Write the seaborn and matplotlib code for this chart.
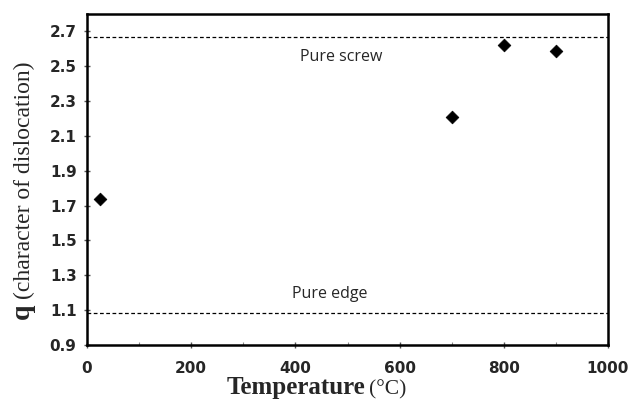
import matplotlib
matplotlib.use("Agg")
import matplotlib.pyplot as plt
import seaborn as sns
import pandas as pd

temperature = [25, 700, 800, 900]
q_values = [1.74, 2.21, 2.62, 2.59]
pure_screw = 2.667
pure_edge = 1.085
x_ticks = [0, 200, 400, 600, 800, 1000]
y_ticks = [0.9, 1.1, 1.3, 1.5, 1.7, 1.9, 2.1, 2.3, 2.5, 2.7]

sns.set_theme(style="ticks")
plt.rcParams['font.family'] = ['DejaVu Sans']

df = pd.DataFrame({"T": temperature, "q": q_values})

fig = plt.figure(figsize=(6.32, 4.08), dpi=100)
ax = fig.add_axes([87/632, 1-345/408, (608-87)/632, (345-14)/408])

sns.scatterplot(data=df, x="T", y="q", marker="D", color="black", s=42,
                edgecolor="black", ax=ax, zorder=3)

ax.axhline(pure_screw, color="black", lw=0.9, ls=(0, (3, 2)))
ax.axhline(pure_edge, color="black", lw=0.9, ls=(0, (3, 2)))
ax.text(487, 2.555, "Pure screw", ha="center", va="center",
        fontsize=11.5, family=["Open Sans", "DejaVu Sans"])
ax.text(466, 1.195, "Pure edge", ha="center", va="center",
        fontsize=11.5, family=["Open Sans", "DejaVu Sans"])

ax.set_xlim(0, 1000)
ax.set_ylim(0.9, 2.8)
ax.set_xticks(x_ticks)
ax.set_yticks(y_ticks)
ax.set_xticklabels([str(v) for v in x_ticks], fontweight="bold", fontsize=11)
ax.set_yticklabels([f"{v:.1f}" for v in y_ticks], fontweight="bold", fontsize=11)
ax.set_xticks([100, 300, 500, 700, 900], minor=True)
ax.tick_params(axis="both", which="major", direction="inout", length=5, width=1,
               color="#555555", pad=5)
ax.tick_params(axis="x", which="major", pad=9)
ax.tick_params(axis="x", which="minor", direction="in", length=2, width=0.8,
               color="#888888")
for sp in ax.spines.values():
    sp.set_linewidth(1.8)
    sp.set_color("black")
ax.set_xlabel("")
ax.set_ylabel("")

fig.text(365/632, 1-394/408, "Temperature", ha="right", va="baseline",
         fontsize=18, fontweight="bold", family=["Liberation Serif"])
fig.text(369/632, 1-394/408, "(°C)", ha="left", va="baseline",
         fontsize=15.5, family=["Liberation Serif"])
fig.text(29/632, 1-319/408, "q", ha="left", va="baseline", rotation=90,
         fontsize=20, fontweight="bold", family=["Liberation Serif"],
         rotation_mode="anchor")
fig.text(30/632, 1-299/408, "(character of dislocation)", ha="left", va="baseline",
         rotation=90, fontsize=17, family=["Liberation Serif"],
         rotation_mode="anchor")

fig.savefig("out.png", dpi=100)
